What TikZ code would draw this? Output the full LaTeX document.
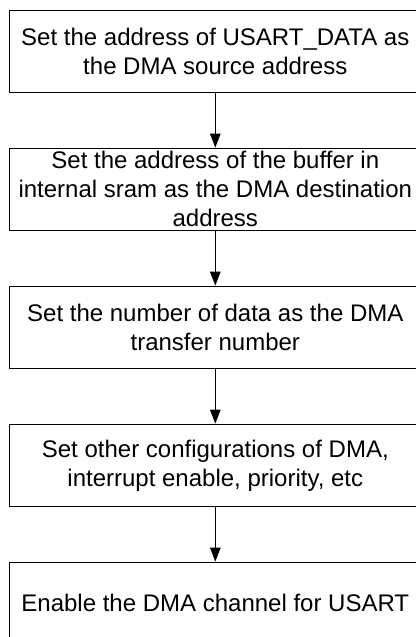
\documentclass[tikz,border=0pt]{standalone}
\usepackage{fontspec}
\setmainfont{Liberation Sans}
\usetikzlibrary{positioning,arrows.meta}
\begin{document}
\begin{tikzpicture}[x=1pt,y=1pt,node distance=54.6pt,
  every node/.style={font=\fontsize{24}{29}\selectfont},
  stepbox/.style={draw,line width=1pt,minimum width=411.6pt,minimum height=82.4pt,inner sep=0pt,align=center},
  flowarrow/.style={line width=1.2pt,-{Triangle[length=14pt,width=10.5pt]}}]
  \useasboundingbox (0,0) rectangle (415,-637);
  \node[stepbox] (srcaddr) at (215.3,-51.3) {Set the address of USART\_DATA as\\the DMA source address};
  \node[stepbox,below=of srcaddr] (dstaddr) {Set the address of the buffer in\\internal sram as the DMA destination\\address};
  \node[stepbox,below=of dstaddr] (count) {Set the number of data as the DMA\\transfer number};
  \node[stepbox,below=of count] (config) {Set other configurations of DMA,\\interrupt enable, priority, etc};
  \node[stepbox,below=of config] (enable) {Enable the DMA channel for USART};
  \draw[flowarrow] (srcaddr) -- (dstaddr);
  \draw[flowarrow] (dstaddr) -- (count);
  \draw[flowarrow] (count) -- (config);
  \draw[flowarrow] (config) -- (enable);
\end{tikzpicture}
\end{document}
